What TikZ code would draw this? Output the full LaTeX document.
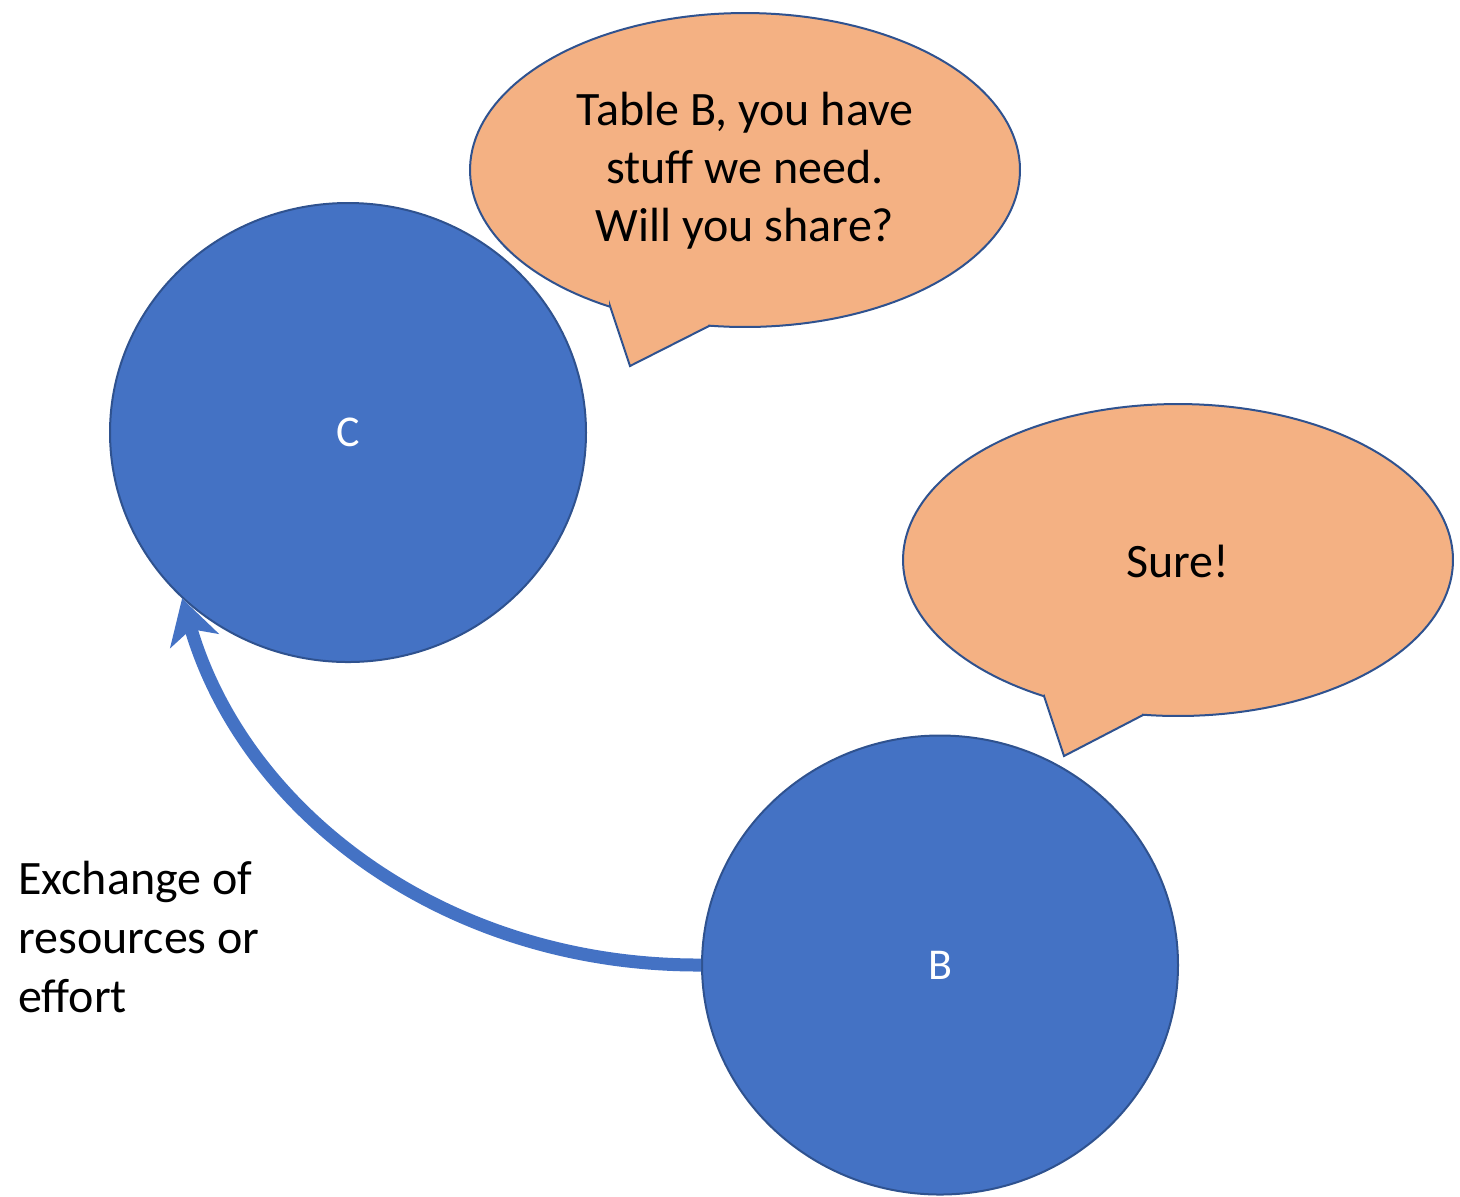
\documentclass[tikz,border=0pt]{standalone}
\usepackage{fontspec}
\setmainfont{Carlito}
\usetikzlibrary{arrows.meta,shapes.geometric}
\definecolor{nodeblue}{HTML}{4472C4}
\definecolor{edgeblue}{HTML}{2F528F}
\definecolor{peach}{HTML}{F4B183}
\tikzset{
  party/.style={ellipse, fill=nodeblue, draw=edgeblue, line width=1pt,
    minimum width=238pt, minimum height=229.5pt, inner sep=0pt,
    text=white, font=\fontsize{22}{26}\selectfont},
  bubble/.style={fill=peach, draw=edgeblue, line width=1pt, line join=miter},
  bubbletext/.style={align=center, font=\fontsize{24}{29}\selectfont, text=black},
  flow/.style={draw=nodeblue, line width=6.5pt,
    -{Stealth[length=22pt,width=25pt,inset=6pt]}},
  sidetext/.style={align=left, anchor=west, inner sep=0pt, font=\fontsize{24}{29.5}\selectfont}
}
\begin{document}
\begin{tikzpicture}[x=0.5pt,y=-0.5pt]
\useasboundingbox (0,0) rectangle (1460,1196);
% circles
\node[party] (C) at (348,432.5) {C};
\node[party] (B) at (940,965) {B};
% callout 1
\path[bubble] (610,306) -- (630,366) -- (709,326)
  -- plot[domain=97.5:-240.6, samples=160] ({745+275*cos(\x)},{170+157*sin(\x)}) -- cycle;
\node[bubbletext] (q) at (745,171) {Table B, you have\\stuff we need.\\Will you share?};
% callout 2
\path[bubble] (1044,696) -- (1064,756) -- (1143,715)
  -- plot[domain=97.3:-240.8, samples=160] ({1178+275*cos(\x)},{560+156*sin(\x)}) -- cycle;
\node[bubbletext] (a) at (1178,561) {Sure!};
% arrow
\draw[flow] (B.west) .. controls (447,966) and (245,814) .. (C.225);
\node[sidetext] (lbl) at (18,937) {Exchange of\\resources or\\effort};
\end{tikzpicture}
\end{document}
